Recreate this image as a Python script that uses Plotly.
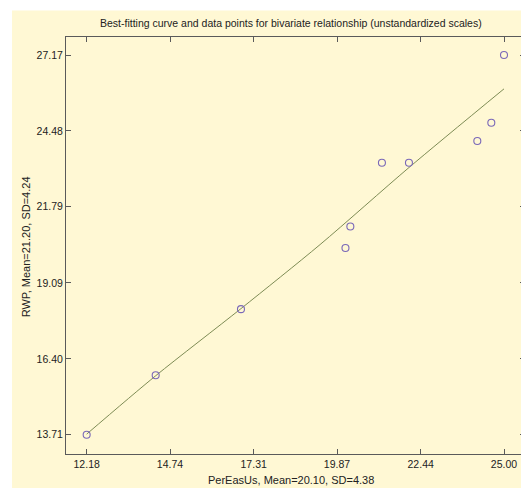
import plotly.graph_objects as go

# Data points
per_eas_us = [12.18, 14.30, 16.92, 20.13, 20.28, 21.25, 22.08, 24.18, 24.61, 25.00]
rwp = [13.71, 15.82, 18.16, 20.33, 21.09, 23.35, 23.35, 24.12, 24.77, 27.17]

# Best-fitting curve
curve_x = [12.18, 14.30, 16.92, 19.35, 22.08, 25.00]
curve_y = [13.73, 15.80, 18.18, 20.45, 23.18, 25.97]

x_ticks = [12.18, 14.74, 17.31, 19.87, 22.44, 25.00]
y_ticks = [13.71, 16.40, 19.09, 21.79, 24.48, 27.17]

title_text = "Best-fitting curve and data points for bivariate relationship (unstandardized scales)"
x_title = "PerEasUs, Mean=20.10, SD=4.38"
y_title = "RWP, Mean=21.20, SD=4.24"

cream = "#FFF8D4"
axis_col = "#5a5a5a"
text_col = "#222"
font_fam = "Liberation Sans, Arial, sans-serif"

# The page body has an 8px margin, so the figure is 8px smaller than the window.
W, H = 521, 480
L, R, T, B = 58, 4, 28.5, 34.2
pw, ph = W - L - R, H - T - B


def px_x(fx):
    return (fx - L) / pw


def px_y(fy):
    return (H - B - fy) / ph


fig = go.Figure()
fig.add_trace(go.Scatter(x=curve_x, y=curve_y, mode="lines",
                         line=dict(color="#7E8C55", width=1, shape="spline", smoothing=0.8),
                         hoverinfo="skip", showlegend=False))
fig.add_trace(go.Scatter(x=per_eas_us, y=rwp, mode="markers",
                         marker=dict(symbol="circle-open", size=7, color="#7A68B8",
                                     line=dict(width=1.1, color="#7A68B8")),
                         showlegend=False))

fig.add_shape(type="rect", xref="paper", yref="paper",
              x0=px_x(4), x1=px_x(W) + 0.01, y0=px_y(H + 2), y1=px_y(2),
              fillcolor=cream, line=dict(width=0), layer="below")

fig.add_annotation(text=title_text, xref="paper", yref="paper",
                   x=px_x(283), y=px_y(14), xanchor="center", yanchor="middle",
                   showarrow=False, font=dict(family=font_fam, size=10.5, color=text_col))
fig.add_annotation(text=x_title, xref="paper", yref="paper",
                   x=px_x(283), y=px_y(472), xanchor="center", yanchor="middle",
                   showarrow=False, font=dict(family=font_fam, size=11, color=text_col))
fig.add_annotation(text=y_title, xref="paper", yref="paper", textangle=-90,
                   x=px_x(18), y=px_y(239), xanchor="center", yanchor="middle",
                   showarrow=False, font=dict(family=font_fam, size=11, color=text_col))

axis_common = dict(showline=True, linecolor=axis_col, linewidth=1, mirror="ticks",
                   ticks="inside", ticklen=5, tickcolor=axis_col, tickwidth=1,
                   showgrid=False, zeroline=False, automargin=False,
                   tickfont=dict(family=font_fam, size=10.5, color=text_col))

fig.update_layout(
    width=W, height=H,
    margin=dict(l=L, r=R, t=T, b=B, autoexpand=False),
    paper_bgcolor="white", plot_bgcolor=cream,
    xaxis=dict(range=[11.545, 25.645], tickmode="array", tickvals=x_ticks,
               ticktext=[f"{v:.2f}" for v in x_ticks], **axis_common),
    yaxis=dict(range=[13.026, 27.808], tickmode="array", tickvals=y_ticks,
               ticktext=[f"{v:.2f}" for v in y_ticks], **axis_common),
)

fig.write_html("out.html")
